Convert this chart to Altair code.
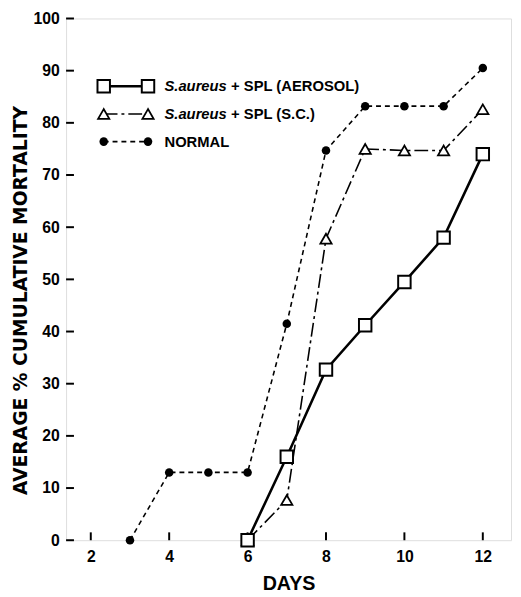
import altair as alt
import pandas as pd

# ---- data ----
days_aerosol = [6, 7, 8, 9, 10, 11, 12]
aerosol = [0, 16, 32.7, 41.2, 49.5, 58, 74]

days_sc = [6, 7, 8, 9, 10, 11, 12]
sc = [0, 7.7, 57.8, 75, 74.7, 74.7, 82.6]

days_normal = [3, 4, 5, 6, 7, 8, 9, 10, 11, 12]
normal = [0, 13, 13, 13, 41.5, 74.7, 83.2, 83.2, 83.2, 90.5]

x_ticks = [2, 4, 6, 8, 10, 12]
y_ticks = [0, 10, 20, 30, 40, 50, 60, 70, 80, 90, 100]

legend_names = ["AEROSOL", "SC", "NORMAL"]
legend_y = [87.0, 81.7, 76.4]
legend_x0 = [2.33, 2.33, 2.33]
legend_x1 = [3.46, 3.46, 3.46]
legend_italic = ["S.aureus", "S.aureus", ""]
legend_rest = ["+ SPL (AEROSOL)", "+ SPL (S.C.)", "NORMAL"]
legend_xit = [3.88, 3.88, 3.88]
legend_xrest = [5.58, 5.58, 3.88]

W, H = 452, 530
FONT = "Liberation Sans"

xs = alt.Scale(domain=[1.37, 12.72], nice=False, zero=False)
ys = alt.Scale(domain=[0, 100], nice=False)

df_a = pd.DataFrame({"day": days_aerosol, "v": aerosol})
df_s = pd.DataFrame({"day": days_sc, "v": sc})
df_n = pd.DataFrame({"day": days_normal, "v": normal})

xenc = alt.X("day:Q", scale=xs,
             axis=alt.Axis(values=x_ticks, title="DAYS", ticks=False, grid=False,
                           domain=False, labelPadding=9, labelFontSize=16,
                           labelFontWeight="bold", titleFontSize=20, titleFontWeight="bold",
                           titlePadding=9, labelFont=FONT, titleFont=FONT, labelColor="black",
                           titleColor="black"))
yenc = alt.Y("v:Q", scale=ys,
             axis=alt.Axis(values=y_ticks, title="AVERAGE % CUMULATIVE MORTALITY", ticks=False,
                           grid=False, domain=False, labelPadding=7, labelFontSize=16,
                           labelFontWeight="bold", titleFontSize=19, titleFontWeight="bold",
                           titlePadding=2, titleY=286, labelFont=FONT, titleFont="DejaVu Sans",
                           labelColor="black", titleColor="black"))

X = alt.X("day:Q", scale=xs)
Y = alt.Y("v:Q", scale=ys)

line_n = alt.Chart(df_n).mark_line(color="black", strokeWidth=1.6, strokeDash=[5, 4]).encode(x=xenc, y=yenc)
pt_n = alt.Chart(df_n).mark_point(shape="circle", filled=True, color="black", size=75, opacity=1).encode(x=X, y=Y)

line_s = alt.Chart(df_s).mark_line(color="black", strokeWidth=1.6, strokeDash=[14, 4, 3, 4]).encode(x=X, y=Y)
pt_s = alt.Chart(df_s).mark_point(shape="triangle-up", filled=True, fill="white", stroke="black",
                                  strokeWidth=1.8, size=130, opacity=1).encode(x=X, y=Y)

line_a = alt.Chart(df_a).mark_line(color="black", strokeWidth=2.6).encode(x=X, y=Y)
pt_a = alt.Chart(df_a).mark_point(shape="square", filled=True, fill="white", stroke="black",
                                  strokeWidth=2, size=160, opacity=1).encode(x=X, y=Y)

# inward ticks
ytick_df = pd.DataFrame({"v": y_ticks})
ytick = alt.Chart(ytick_df).mark_rule(color="black", strokeWidth=2).encode(
    y=Y, x=alt.value(0), x2=alt.value(8))
xtick_df = pd.DataFrame({"day": x_ticks})
xtick = alt.Chart(xtick_df).mark_rule(color="black", strokeWidth=2).encode(
    x=X, y=alt.value(H), y2=alt.value(H - 8))

# legend
leg = pd.DataFrame({"name": legend_names, "y": legend_y, "x0": legend_x0, "x1": legend_x1,
                    "it": legend_italic, "rest": legend_rest, "xit": legend_xit, "xrest": legend_xrest})

def leg_line(name, dash, width):
    m = dict(color="black", strokeWidth=width)
    if dash:
        m["strokeDash"] = dash
    return alt.Chart(leg).transform_filter(alt.datum.name == name).mark_rule(**m).encode(
        x=alt.X("x0:Q", scale=xs), x2="x1:Q", y=alt.Y("y:Q", scale=ys))

def leg_pts(name, **kw):
    return alt.Chart(leg).transform_fold(["x0", "x1"], as_=["k", "xx"]).transform_filter(
        alt.datum.name == name).mark_point(opacity=1, **kw).encode(
        x=alt.X("xx:Q", scale=xs), y=alt.Y("y:Q", scale=ys))

leg_layers = [
    leg_line("AEROSOL", None, 2.6),
    leg_line("SC", [14, 4, 3, 4], 1.6),
    leg_line("NORMAL", [5, 4], 1.6),
    leg_pts("AEROSOL", shape="square", filled=True, fill="white", stroke="black", strokeWidth=2, size=160),
    leg_pts("SC", shape="triangle-up", filled=True, fill="white", stroke="black", strokeWidth=1.8, size=130),
    leg_pts("NORMAL", shape="circle", filled=True, color="black", size=75),
]

leg_it = alt.Chart(leg).transform_filter(alt.datum.it != "").mark_text(
    align="left", baseline="middle", font=FONT, fontSize=15, fontStyle="italic",
    fontWeight="bold", color="black").encode(
    x=alt.X("xit:Q", scale=xs), y=alt.Y("y:Q", scale=ys), text="it:N")
leg_rest = alt.Chart(leg).mark_text(
    align="left", baseline="middle", font=FONT, fontSize=15, fontWeight="bold", color="black").encode(
    x=alt.X("xrest:Q", scale=xs), y=alt.Y("y:Q", scale=ys), text="rest:N")

chart = alt.layer(
    line_n, line_s, line_a, ytick, xtick, pt_n, pt_s, pt_a, *leg_layers, leg_it, leg_rest
).properties(
    width=W, height=H,
    autosize=alt.AutoSizeParams(type="none"),
    padding={"left": 59, "top": 6, "right": 2, "bottom": 52},
).configure_view(stroke="black", strokeWidth=2.2).configure(background="white")

chart.save("out.html", embed_options={"renderer": "svg", "actions": False})
